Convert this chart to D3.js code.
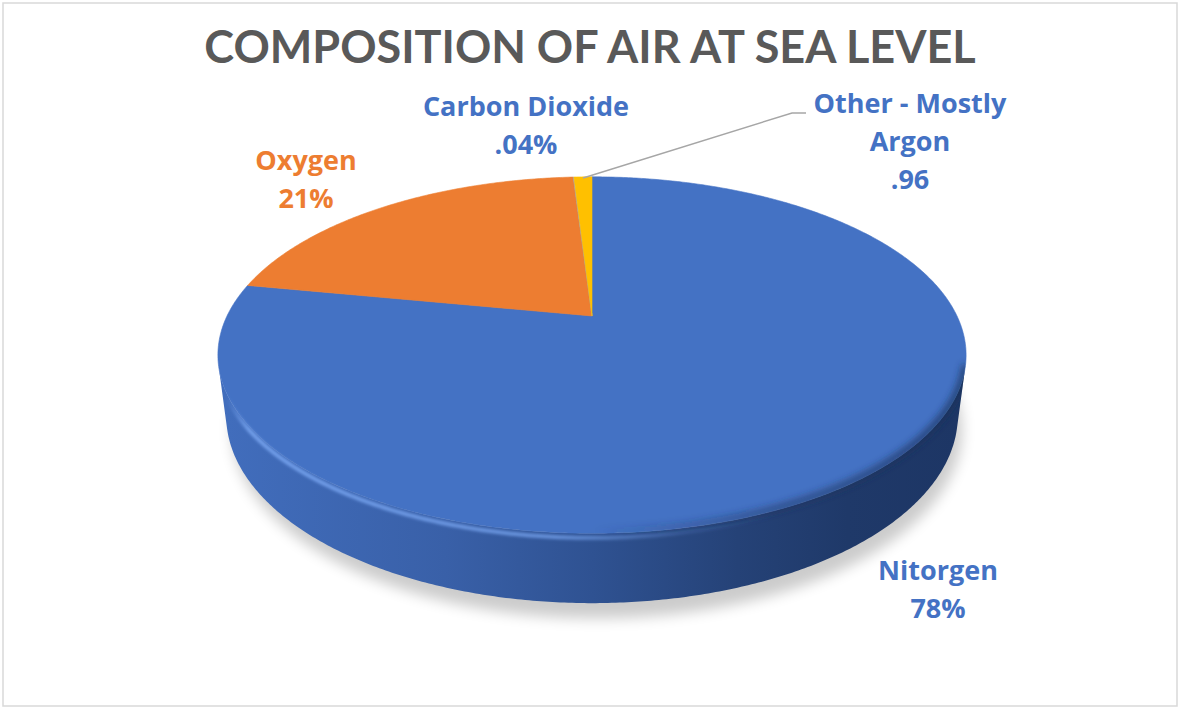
<!DOCTYPE html>
<html>
<head>
<meta charset="utf-8">
<script src="https://cdn.jsdelivr.net/npm/d3@7"></script>
<style>
  html, body { margin: 0; padding: 0; background: #fff; }
  svg { display: block; }
  text { font-weight: 700; }
</style>
</head>
<body>
<svg id="chart" width="1179" height="708"></svg>
<script>
"use strict";

// data
const categories = ["Nitorgen", "Oxygen", "Carbon Dioxide", "Other - Mostly Argon"];
const values = [78, 21, 0.04, 0.96];
const valueLabels = ["78%", "21%", ".04%", ".96"];
const sliceColors = ["#4472c4", "#ed7d31", "#a5a5a5", "#ffc000"];
const labelColors = ["#4472c4", "#ed7d31", "#4472c4", "#4472c4"];
const title = "COMPOSITION OF AIR AT SEA LEVEL";


// layout
const W = 1179, H = 708;
const cx = 592, cy = 316;          // projected apex of the pie top
const S = 365;                     // radius scale on screen
const tilt = 27.7 * Math.PI / 180; // viewing elevation
const D = 4.04;                    // camera distance (in radii)
const thick = 0.188;               // pie height (in radii)
const sinA = Math.sin(tilt), cosA = Math.cos(tilt);

// label anchors (centre x, first baseline) and wrapping
const labelLayout = {
    "Nitorgen":             { x: 938, y: 580, lines: ["Nitorgen"] },
    "Oxygen":               { x: 306, y: 170, lines: ["Oxygen"] },
    "Carbon Dioxide":       { x: 526, y: 116, lines: ["Carbon Dioxide"] },
    "Other - Mostly Argon": { x: 910, y: 113, lines: ["Other - Mostly", "Argon"], leader: [[792, 113], [806, 113]] }
};
const lineHeight = 38;


const svg = d3.select("#chart");
const defs = svg.append("defs");

// frame
svg.append("rect")
.attr("x", 3).attr("y", 3)
.attr("width", W - 5).attr("height", H - 5)
.attr("fill", "#fff")
.attr("stroke", "#d9d9d9")
.attr("stroke-width", 1.5);

// title
svg.append("text")
.attr("x", 590).attr("y", 63)
.attr("text-anchor", "middle")
.attr("font-family", "Lato, sans-serif")
.attr("font-size", 45)
.attr("fill", "#595959")
.text(title);


// projection of a point on the pie (angle clockwise from 12 o'clock, radius r, height h)
function project(theta, r, h) {
    const x = r * Math.sin(theta), z = -r * Math.cos(theta);
    const u = -z * sinA + h * cosA;
    const w = D - (z * cosA + h * sinA);
    return [cx + S * x * D / w, cy - S * u * D / w];
}

function arcPoints(a0, a1, h) {
    const n = Math.max(2, Math.ceil((a1 - a0) / (Math.PI / 360)));
    return d3.range(n + 1).map(i => project(a0 + (a1 - a0) * i / n, 1, h));
}

const line = d3.line();
const pie = d3.pie().sort(null).value(d => d);
const arcs = pie(values);

// visible part of the outer wall
const zSil = 1 / (D * cosA);
const visA0 = Math.acos(-zSil), visA1 = 2 * Math.PI - Math.acos(-zSil);
const outlineTop = line(arcPoints(0, 2 * Math.PI, 0)) + "Z";
const outlineWall = line(arcPoints(visA0, visA1, 0).concat(arcPoints(visA0, visA1, -thick).reverse())) + "Z";


// filters
const blur = defs.append("filter").attr("id", "shadow")
.attr("x", "-20%").attr("y", "-20%").attr("width", "140%").attr("height", "140%");
blur.append("feGaussianBlur").attr("stdDeviation", 7);

const soft = defs.append("filter").attr("id", "soft")
.attr("x", "-10%").attr("y", "-10%").attr("width", "120%").attr("height", "120%");
soft.append("feGaussianBlur").attr("stdDeviation", 1.6);

const softer = defs.append("filter").attr("id", "softer")
.attr("x", "-10%").attr("y", "-10%").attr("width", "120%").attr("height", "120%");
softer.append("feGaussianBlur").attr("stdDeviation", 3.5);

const clip = defs.append("clipPath").attr("id", "pieclip");
clip.append("path").attr("d", outlineTop);
clip.append("path").attr("d", outlineWall);

// wall shading, light on the left, dark on the right
const shade = (c, k) => d3.interpolateRgb(c, "#0b1a38")(k);
sliceColors.forEach((c, i) => {
    const g = defs.append("linearGradient").attr("id", "wall" + i)
    .attr("gradientUnits", "userSpaceOnUse")
    .attr("x1", cx - S).attr("x2", cx + S).attr("y1", 0).attr("y2", 0);
    [[0, 0.06], [0.3, 0.2], [0.5, 0.36], [0.7, 0.55], [0.85, 0.65], [1, 0.68]].forEach(([o, k]) => {
        g.append("stop").attr("offset", o).attr("stop-color", shade(c, k));
    });
});

const hl = defs.append("linearGradient").attr("id", "rimlight")
.attr("gradientUnits", "userSpaceOnUse")
.attr("x1", cx - S).attr("x2", cx + S).attr("y1", 0).attr("y2", 0);
[[0, 0], [0.03, 0.9], [0.45, 0.75], [0.62, 0.2], [0.75, 0]].forEach(([o, a]) => {
    hl.append("stop").attr("offset", o).attr("stop-color", "#78a5f0").attr("stop-opacity", a);
});

const dk = defs.append("linearGradient").attr("id", "rimdark")
.attr("gradientUnits", "userSpaceOnUse")
.attr("x1", cx - S).attr("x2", cx + S).attr("y1", 0).attr("y2", 0);
[[0, 0], [0.5, 0], [0.75, 0.55], [1, 0.75]].forEach(([o, a]) => {
    dk.append("stop").attr("offset", o).attr("stop-color", "#1d3058").attr("stop-opacity", a);
});


// drop shadow under the pie
svg.append("path")
.attr("d", line(arcPoints(0, 2 * Math.PI, -thick - 0.02)) + "Z")
.attr("transform", "translate(5, 8)")
.attr("fill", "#000")
.attr("opacity", 0.2)
.attr("filter", "url(#shadow)");


const walls = svg.append("g").attr("class", "walls");
arcs.forEach((a, i) => {
    const a0 = Math.max(a.startAngle, visA0), a1 = Math.min(a.endAngle, visA1);
    if (a1 <= a0) return;
    const top = arcPoints(a0, a1, 0);
    const bottom = arcPoints(a0, a1, -thick).reverse();
    walls.append("path")
    .attr("d", line(top.concat(bottom)) + "Z")
    .attr("fill", `url(#wall${i})`);
});


// top faces
const tops = svg.append("g").attr("class", "tops");
arcs.forEach((a, i) => {
    const pts = [[cx, cy]].concat(arcPoints(a.startAngle, a.endAngle, 0));
    tops.append("path")
    .attr("d", line(pts) + "Z")
    .attr("fill", sliceColors[i])
    .attr("stroke", sliceColors[i])
    .attr("stroke-width", 0.6)
    .attr("stroke-linejoin", "round");
});

// rounded bevel along the front rim
const bevel = svg.append("g").attr("clip-path", "url(#pieclip)");
bevel.append("path")
.attr("d", line(arcPoints(visA0, visA1, 0.005)))
.attr("fill", "none")
.attr("stroke", "url(#rimdark)")
.attr("stroke-width", 7)
.attr("filter", "url(#softer)");

bevel.append("path")
.attr("d", line(arcPoints(visA0, visA1, -0.012)))
.attr("fill", "none")
.attr("stroke", "url(#rimlight)")
.attr("stroke-width", 4)
.attr("filter", "url(#soft)");


// labels
const labels = svg.append("g").attr("class", "labels");
arcs.forEach((a, i) => {
    const lay = labelLayout[categories[i]];
    const lines = lay.lines.concat([valueLabels[i]]);
    const t = labels.append("text")
    .attr("text-anchor", "middle")
    .attr("font-family", "'Open Sans', sans-serif")
    .attr("font-size", 27)
    .attr("fill", labelColors[i]);
    lines.forEach((s, k) => {
        t.append("tspan").attr("x", lay.x).attr("y", lay.y + k * lineHeight).text(s);
    });
    if (lay.leader) {
        const mid = (a.startAngle + a.endAngle) / 2;
        const p0 = project(mid, 0.99, 0);
        labels.append("path")
        .attr("d", line([p0].concat(lay.leader)))
        .attr("fill", "none")
        .attr("stroke", "#a6a6a6")
        .attr("stroke-width", 1.5);
    }
});
</script>
</body>
</html>
